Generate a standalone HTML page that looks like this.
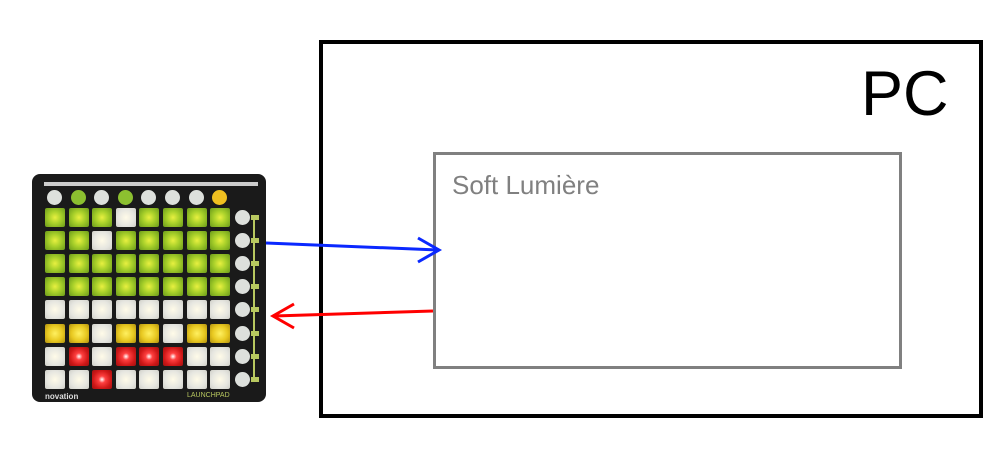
<!DOCTYPE html>
<html><head><meta charset="utf-8"><style>
body{margin:0;width:1000px;height:452px;background:#fff;position:relative;overflow:hidden;font-family:"Liberation Sans",sans-serif}
.a{position:absolute}
.p{position:absolute;width:20px;height:19px;border-radius:2px}
.G{background:radial-gradient(circle,#e8f040 0%,#a8d02a 45%,#6a9a1a 100%)}
.W{background:radial-gradient(circle,#fffbe8 0%,#e6e6e0 60%,#cfcfc8 100%)}
.Y{background:radial-gradient(circle,#fff060 0%,#e8c820 55%,#b09010 100%)}
.R{background:radial-gradient(circle,#fff 0%,#ff4040 25%,#d01818 65%,#a01010 100%)}
.c{position:absolute;width:15px;height:15px;border-radius:50%;background:#dde0dc}
</style></head><body>
<div class="a" style="left:319px;top:40px;width:656px;height:370px;border:4px solid #000"></div>
<div class="a" style="left:861px;top:59px;font-size:63px;line-height:70px">PC</div>
<div class="a" style="left:433px;top:152px;width:463px;height:211px;border:3px solid #808080"></div>
<div class="a" style="left:452px;top:170px;font-size:26px;color:#808080">Soft Lumière</div>
<div class="a" style="left:32px;top:174px;width:234px;height:228px;background:#1a1a1a;border-radius:8px"></div>
<div class="a" style="left:44px;top:182px;width:214px;height:4px;background:#ccc"></div>
<div id="pads"></div>
<div class="a" style="left:253px;top:220px;width:2px;height:160px;background:#b8c860"></div>
<div class="a" style="left:45px;top:392px;font-size:8px;font-weight:bold;color:#ddd">novation</div>
<div class="a" style="left:187px;top:392px;font-size:7px;color:#b8c860">LAUNCHPAD</div>
<svg class="a" style="left:0;top:0" width="1000" height="452">
<line x1="266" y1="243" x2="438" y2="250" stroke="#0a28ff" stroke-width="3"/>
<polyline points="418,238 439,250 418,262" fill="none" stroke="#0a28ff" stroke-width="3"/>
<line x1="433" y1="311" x2="274" y2="316" stroke="#ff0000" stroke-width="3"/>
<polyline points="294,304 273,316 294,328" fill="none" stroke="#ff0000" stroke-width="3"/>
</svg>
<script>
var rows=["GGGWGGGG","GGWGGGGG","GGGGGGGG","GGGGGGGG","WWWWWWWW","YYWYYWYY","WRWRRRWW","WWRWWWWW"];
var h="";
for(var r=0;r<8;r++)for(var c=0;c<8;c++)h+='<div class="p '+rows[r][c]+'" style="left:'+(45+c*23.6)+'px;top:'+(208+r*23.1)+'px"></div>';
var tc=["#dde0dc","#8cc030","#dde0dc","#8cc030","#dde0dc","#dde0dc","#dde0dc","#f0c020"];
for(var c=0;c<8;c++)h+='<div class="c" style="left:'+(47+c*23.6)+'px;top:190px;background:'+tc[c]+'"></div>';
for(var r=0;r<8;r++){h+='<div class="c" style="left:235px;top:'+(210+r*23.1)+'px"></div>';h+='<div class="a" style="left:251px;top:'+(215+r*23.1)+'px;width:8px;height:5px;background:#b8c860"></div>';}
document.getElementById("pads").innerHTML=h;
</script>
</body></html>
